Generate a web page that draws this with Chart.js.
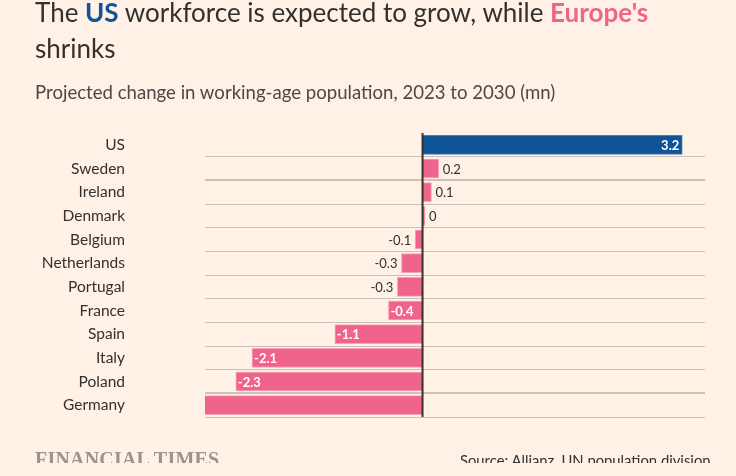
<!DOCTYPE html>
<html>
<head>
<meta charset="utf-8">
<script src="https://cdn.jsdelivr.net/npm/chart.js@4/dist/chart.umd.min.js"></script>
<style>
    body { margin: 0; background: #fff1e5; font-family: Lato, "Noto Sans", sans-serif; }
    #wrap { position: relative; width: 736px; height: 476px; overflow: hidden; }
    #chart { position: absolute; left: 0; top: 0; width: 736px; height: 476px; }
    .title { position: absolute; left: 35px; top: -6px; font-size: 26px; line-height: 36px; color: #33302e; }
    .title .us { color: #0f5499; font-weight: bold; }
    .title .eu { color: #f0648c; font-weight: bold; }
    .subtitle { position: absolute; left: 35px; top: 81px; font-size: 18.6px; color: #4d4845; }
    .footer { position: absolute; left: 0; top: 440px; width: 736px; height: 23px; overflow: hidden; }
    .ft { position: absolute; left: 35px; top: 8px; font-family: "Liberation Serif", serif; font-size: 20px; font-weight: bold; letter-spacing: 0.2px; color: #9b948e; }
    .source { position: absolute; left: 460px; top: 11px; font-size: 14.8px; color: #33302e; }
</style>
</head>
<body>
<div id="wrap">
    <canvas id="chart" width="736" height="476"></canvas>
    <div class="title">The <span class="us">US</span> workforce is expected to grow, while <span class="eu">Europe's</span><br>shrinks</div>
    <div class="subtitle">Projected change in working-age population, 2023 to 2030 (mn)</div>
    <div class="footer">
        <div class="ft">FINANCIAL TIMES</div>
        <div class="source">Source: Allianz, UN population division</div>
    </div>
</div>
<script>
const countries = ["US", "Sweden", "Ireland", "Denmark", "Belgium", "Netherlands", "Portugal", "France", "Spain", "Italy", "Poland", "Germany"];
const changeMn = [3.2, 0.2, 0.11, 0.03, -0.09, -0.26, -0.31, -0.42, -1.08, -2.1, -2.3, -2.9];

const blue = "#0f5499";
const pink = "#f0648c";

function fmt(v) {
    return String(Math.round(v * 10) / 10);
}

// dark zero line on top of the bars, then the value labels
const barLabels = {
    id: "barLabels",
    afterDatasetsDraw(chart) {
        const ctx = chart.ctx;
        const xScale = chart.scales.x;
        const area = chart.chartArea;
        const meta = chart.getDatasetMeta(0);
        ctx.save();

        var x0 = xScale.getPixelForValue(0);
        ctx.strokeStyle = "#33302e";
        ctx.lineWidth = 2;
        ctx.beginPath();
        ctx.moveTo(x0, area.top);
        ctx.lineTo(x0, area.bottom);
        ctx.stroke();

        ctx.textBaseline = "middle";
        meta.data.forEach(function (bar, i) {
            var v = changeMn[i];
            if (v < xScale.min) {
                return; // clipped bar, no label
            }
            var w = Math.abs(bar.x - bar.base);
            var text = fmt(v);
            if (w > 30) {
                ctx.fillStyle = "#ffffff";
                ctx.font = "bold 13px Lato, sans-serif";
                if (v >= 0) {
                    ctx.textAlign = "right";
                    ctx.fillText(text, bar.x - 3, bar.y + 1);
                } else {
                    ctx.textAlign = "left";
                    ctx.fillText(text, bar.x + 2, bar.y + 1);
                }
            } else {
                ctx.fillStyle = "#33302e";
                ctx.font = "13px Lato, sans-serif";
                if (v >= 0) {
                    ctx.textAlign = "left";
                    ctx.fillText(text, Math.max(bar.x, bar.base + 2) + 4, bar.y + 1);
                } else {
                    ctx.textAlign = "right";
                    ctx.fillText(text, bar.x - 4, bar.y + 1);
                }
            }
        });
        ctx.restore();
    }
};

function rowLine(ctx) {
    if (ctx.index === 0 || ctx.index >= countries.length) return 0;
    if (ctx.index === 2 || ctx.index === countries.length - 1) return 2;
    return 1;
}

new Chart(document.getElementById("chart"), {
    type: "bar",
    data: {
        labels: countries,
        datasets: [{
            data: changeMn,
            backgroundColor: countries.map(function (c) { return c === "US" ? blue : pink; }),
            borderColor: countries.map(function (c) { return c === "US" ? "#4d7fb6" : "#f7a3bb"; }),
            borderWidth: 1,
            borderSkipped: "start",
            barThickness: 19
        }]
    },
    options: {
        indexAxis: "y",
        responsive: false,
        maintainAspectRatio: false,
        animation: false,
        layout: { padding: { top: 133, bottom: 59, right: 31, left: 0 } },
        plugins: {
            legend: { display: false },
            tooltip: { enabled: false }
        },
        scales: {
            x: {
                display: false,
                min: -2.68,
                max: 3.48
            },
            y: {
                afterFit: function (scale) {
                    scale.width = 205;
                    // the big tick padding must not eat vertical room
                    scale.paddingTop = 0;
                    scale.paddingBottom = 0;
                },
                border: { display: false },
                grid: {
                    offset: true,
                    drawTicks: false,
                    color: function (ctx) { return rowLine(ctx) === 0 ? "rgba(0,0,0,0)" : "#ccc1b7"; },
                    lineWidth: function (ctx) { return rowLine(ctx) || 1; }
                },
                ticks: {
                    padding: 80,
                    color: "#33302e",
                    font: { family: "Lato, sans-serif", size: 15.5 }
                }
            }
        }
    },
    plugins: [barLabels]
});
</script>
</body>
</html>
